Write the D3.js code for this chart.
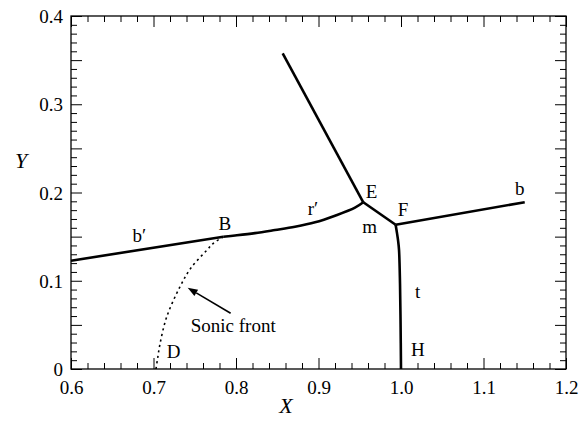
<!DOCTYPE html>
<html>
<head>
<meta charset="utf-8">
<script src="https://cdn.jsdelivr.net/npm/d3@7"></script>
<style>
  html, body { margin: 0; padding: 0; background: #fff; }
  svg text { font-family: "Liberation Serif", "DejaVu Serif", serif; }
</style>
</head>
<body>
<svg id="chart" width="579" height="427"></svg>
<script>
// Shock configuration in the (X, Y) plane
const xDomain = [0.6, 1.2];
const yDomain = [0, 0.4];
const xMajorTicks = [0.6, 0.7, 0.8, 0.9, 1.0, 1.1, 1.2];
const xTickLabels = ["0.6", "0.7", "0.8", "0.9", "1.0", "1.1", "1.2"];
const yMajorTicks = [0, 0.1, 0.2, 0.3, 0.4];
const yTickLabels = ["0", "0.1", "0.2", "0.3", "0.4"];

// Reflected shock b' (left of B)
const shockBPrime = [[0.6, 0.1227], [0.7846, 0.1499]];
// Reflected shock r' from B to triple point E
const shockRPrime = [[0.7846, 0.1499], [0.7988, 0.1513], [0.823, 0.1540], [0.8473, 0.1575], [0.8715, 0.1612], [0.8958, 0.1662], [0.920, 0.1737], [0.9442, 0.1828], [0.9543, 0.1889]];
// Upper shock leaving E
const shockUpper = [[0.8566, 0.3577], [0.9543, 0.1889]];
// Mach stem m between E and F
const stemM = [[0.9543, 0.1889], [0.9935, 0.1635]];
// Incident shock b to the right of F
const shockB = [[0.9935, 0.1635], [1.150, 0.189]];
// Transmitted shock t from F down to H
const shockT = [[0.9935, 0.1635], [0.9952, 0.1537], [0.9964, 0.146], [0.9976, 0.135], [0.9988, 0.097], [0.9995, 0.05], [1.0, 0.0]];
// Sonic front from D up to B
const sonicFront = [[0.703, 0.0], [0.705, 0.012], [0.708, 0.029], [0.716, 0.059], [0.732, 0.093], [0.745, 0.114], [0.765, 0.135], [0.7725, 0.1424], [0.7846, 0.1499]];

// Point / curve labels: [text, x, y]
const labels = [
  ["b\u2032", 0.6744, 0.1439],
  ["B", 0.7788, 0.1576],
  ["r\u2032", 0.887, 0.175],
  ["E", 0.9572, 0.1940],
  ["F", 0.9960, 0.1733],
  ["m", 0.9530, 0.1541],
  ["b", 1.1382, 0.1977],
  ["t", 1.0170, 0.0804],
  ["H", 1.0121, 0.0147],
  ["D", 0.7160, 0.0122]
];
const sonicLabel = ["Sonic front", 0.7451, 0.0422];
const arrowTail = [0.7935, 0.0632];
const arrowTip = [0.7414, 0.0921];

const svg = d3.select("#chart");
const plotL = 71, plotR = 566, plotT = 16, plotB = 369;
const fontSize = 19;
const x = d3.scaleLinear().domain(xDomain).range([plotL, plotR]);
const y = d3.scaleLinear().domain(yDomain).range([plotB, plotT]);

const xMinor = d3.range(0.6, 1.2001, 0.02).filter(v => Math.abs(v * 10 - Math.round(v * 10)) > 1e-6);
const yAllMinor = d3.range(0, 0.4001, 0.01);
const yMinor = yAllMinor.filter(v => Math.abs(v * 20 - Math.round(v * 20)) > 1e-6);
const yMid = yAllMinor.filter(v => Math.abs(v * 20 - Math.round(v * 20)) <= 1e-6);

function tickAxis(axisFn, scale, ticks, size, transform) {
  const g = svg.append("g").attr("transform", transform)
    .call(axisFn(scale).tickValues(ticks).tickSize(size).tickFormat(""));
  g.select(".domain").remove();
  g.selectAll(".tick line").attr("stroke", "#000").attr("stroke-width", 1);
  return g;
}

// Inward ticks on all four sides
tickAxis(d3.axisBottom, x, xMajorTicks, -11, `translate(0,${plotB})`);
tickAxis(d3.axisBottom, x, xMinor, -6, `translate(0,${plotB})`);
tickAxis(d3.axisTop, x, xMajorTicks, -11, `translate(0,${plotT})`);
tickAxis(d3.axisTop, x, xMinor, -6, `translate(0,${plotT})`);
tickAxis(d3.axisLeft, y, yMid, -11, `translate(${plotL},0)`);
tickAxis(d3.axisLeft, y, yMinor, -6, `translate(${plotL},0)`);
tickAxis(d3.axisRight, y, yMid, -11, `translate(${plotR},0)`);
tickAxis(d3.axisRight, y, yMinor, -6, `translate(${plotR},0)`);

// Tick labels
const xLab = svg.append("g").attr("transform", `translate(0,${plotB})`)
  .call(d3.axisBottom(x).tickValues(xMajorTicks).tickSize(0).tickPadding(0)
    .tickFormat((d, i) => xTickLabels[i]));
xLab.attr("font-size", fontSize);
xLab.select(".domain").remove();
xLab.selectAll("text").attr("dy", null).attr("y", 25).attr("fill", "#000");

const yLab = svg.append("g").attr("transform", `translate(${plotL},0)`)
  .call(d3.axisLeft(y).tickValues(yMajorTicks).tickSize(0).tickPadding(8)
    .tickFormat((d, i) => yTickLabels[i]));
yLab.attr("font-size", fontSize);
yLab.select(".domain").remove();
yLab.selectAll("text").attr("dy", "0.35em").attr("fill", "#000");

// Frame
svg.append("rect").attr("x", plotL).attr("y", plotT)
  .attr("width", plotR - plotL).attr("height", plotB - plotT)
  .attr("fill", "none").attr("stroke", "#000").attr("stroke-width", 1.3);

// Axis titles
svg.append("text").attr("x", 286).attr("y", 413).attr("text-anchor", "middle")
  .attr("font-size", 22).attr("font-style", "italic").text("X");
svg.append("text").attr("x", 21).attr("y", 168).attr("text-anchor", "middle")
  .attr("font-size", 22).attr("font-style", "italic").text("Y");

// Shock curves
const line = d3.line().x(d => x(d[0])).y(d => y(d[1]));
const smooth = d3.line().x(d => x(d[0])).y(d => y(d[1])).curve(d3.curveCatmullRom.alpha(0.5));
const solid = [
  [shockBPrime, line], [shockRPrime, smooth], [shockUpper, line],
  [stemM, line], [shockB, line], [shockT, smooth]
];
solid.forEach(([pts, gen]) => {
  svg.append("path").attr("d", gen(pts)).attr("fill", "none")
    .attr("stroke", "#000").attr("stroke-width", 2.6)
    .attr("stroke-linejoin", "round").attr("stroke-linecap", "butt");
});

svg.append("path").attr("d", smooth(sonicFront)).attr("fill", "none")
  .attr("stroke", "#000").attr("stroke-width", 1.6).attr("stroke-dasharray", "2.2,3.4");

// Arrow pointing at the sonic front
const tx = x(arrowTail[0]), ty = y(arrowTail[1]);
const hx = x(arrowTip[0]), hy = y(arrowTip[1]);
const ang = Math.atan2(hy - ty, hx - tx);
const headLen = 10, headHalf = 3.6;
const bx = hx - headLen * Math.cos(ang), by = hy - headLen * Math.sin(ang);
svg.append("line").attr("x1", tx).attr("y1", ty).attr("x2", bx).attr("y2", by)
  .attr("stroke", "#000").attr("stroke-width", 1.6);
svg.append("path")
  .attr("d", `M${hx},${hy}L${bx + headHalf * Math.sin(ang)},${by - headHalf * Math.cos(ang)}L${bx - headHalf * Math.sin(ang)},${by + headHalf * Math.cos(ang)}Z`)
  .attr("fill", "#000");

// Labels
labels.forEach(([t, lx, ly]) => {
  svg.append("text").attr("x", x(lx)).attr("y", y(ly)).attr("font-size", fontSize).text(t);
});
svg.append("text").attr("x", x(sonicLabel[1])).attr("y", y(sonicLabel[2]))
  .attr("font-size", fontSize).text(sonicLabel[0]);
</script>
</body>
</html>
